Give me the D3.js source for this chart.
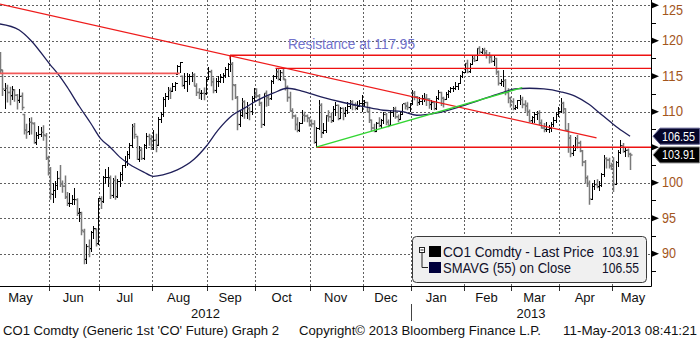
<!DOCTYPE html>
<html>
<head>
<meta charset="utf-8">
<script src="https://cdn.jsdelivr.net/npm/d3@7/dist/d3.min.js"></script>
<style>
  html, body { margin: 0; padding: 0; background: #fff; }
  svg { display: block; }
  text { font-family: "Liberation Sans", "DejaVu Sans", sans-serif; }
</style>
</head>
<body>
<svg id="chart" width="700" height="339"></svg>
<script>
// ---------------- data ----------------
// Daily bars, one row per trading day: [open, high, low, close]
const may12 = [
  [118.0,118.4,115.4,115.9],[115.8,115.9,112.2,113.2],[113.0,114.0,110.4,113.2],[113.3,113.8,111.3,112.7],
  [112.7,113.5,110.9,112.2],[112.3,113.6,111.6,113.1],[113.0,113.2,111.4,112.3],[112.3,112.5,110.3,111.6],
  [111.6,113.2,111.2,112.2],[112.2,112.7,110.2,110.6],[109.6,109.7,106.8,107.4],[107.4,108.3,106.2,107.1],
  [107.2,109.1,106.7,108.5],[108.5,109.2,106.8,108.4],[108.3,108.5,105.5,105.6],[105.7,107.1,105.3,106.6],
  [106.6,108.0,106.1,106.8],[106.8,107.9,106.5,107.1],[107.1,108.1,105.9,106.7],[106.6,107.0,103.2,103.5],
  [103.4,103.8,101.0,101.9]
];
const jun12 = [
  [101.8,102.2,97.6,98.4],[98.4,99.9,97.1,98.9],[98.9,100.3,97.9,99.6],[99.6,101.6,99.0,100.6],
  [100.6,102.5,99.4,99.9],[99.8,100.3,98.6,99.5],[99.5,101.0,97.7,98.0],[98.0,98.7,96.7,97.1],
  [97.1,98.6,96.6,97.1],[97.1,98.3,96.8,97.6],[97.6,99.2,96.9,97.6],[97.6,97.8,95.3,95.8],
  [95.7,96.4,94.4,95.8],[95.6,95.9,92.6,93.3],[93.1,93.5,88.5,89.2],[89.2,91.4,88.5,91.0],
  [91.0,92.0,89.5,90.7],[90.7,93.2,90.2,93.0],[93.0,93.9,92.0,93.5],[93.4,93.6,91.0,91.4],
  [91.4,97.9,91.2,97.8]
];
const jul12 = [
  [97.6,98.1,96.3,97.3],[97.4,100.9,97.2,100.7],[100.7,101.9,99.8,100.7],[100.7,102.2,99.4,100.7],
  [100.6,101.0,97.7,98.2],[98.2,100.6,97.9,100.3],[100.3,101.0,97.6,98.0],[98.0,100.5,97.8,100.2],
  [100.2,101.5,99.4,101.1],[101.1,102.5,100.3,102.4],[102.4,103.8,102.0,103.0],[103.0,104.4,102.3,104.0],
  [104.0,105.6,103.4,105.2],[105.2,108.3,104.9,107.9],[107.9,108.4,106.2,106.8],[106.5,106.6,103.2,103.3],
  [103.3,105.2,102.9,104.6],[104.6,104.9,103.2,103.4],[103.4,105.5,103.2,105.3],[105.3,107.0,104.8,106.5],
  [106.5,106.9,105.2,106.2],[106.2,106.7,104.6,104.9]
];
const aug12 = [
  [104.9,107.4,104.6,106.0],[106.0,106.9,104.3,105.3],[105.3,109.2,105.1,108.9],[108.9,110.0,108.4,109.6],
  [109.6,112.0,109.3,111.7],[111.7,112.6,110.7,112.1],[112.1,113.5,111.6,113.0],[113.0,113.4,111.8,112.9],
  [112.9,114.0,112.8,113.6],[113.6,114.2,112.9,114.0],[115.3,116.6,115.2,116.3],[116.3,117.0,115.4,116.9],
  [115.0,115.1,113.5,113.7],[113.7,115.4,113.2,114.3],[114.3,115.4,112.8,114.9],[114.9,115.3,113.8,115.0],
  [115.0,115.6,114.2,115.2],[115.2,115.4,113.6,113.6],[113.6,114.0,112.2,112.7],[112.7,113.3,111.8,112.6],
  [112.6,113.1,111.7,112.6],[112.6,113.4,111.6,112.5],[112.5,114.9,112.3,114.6]
];
const sep12 = [
  [114.6,116.3,114.4,115.6],[115.6,115.9,113.6,114.2],[114.2,114.8,112.6,113.0],[113.0,114.8,112.7,114.3],
  [114.3,115.0,113.5,114.3],[114.3,115.3,114.0,114.8],[114.8,115.4,114.1,115.1],[115.1,116.3,114.8,116.0],
  [116.0,116.8,114.9,116.6],[116.6,117.95,115.6,116.7],[116.7,117.0,111.6,113.8],[113.7,113.9,111.8,112.0],
  [112.0,112.2,107.4,108.2],[108.2,110.2,107.8,109.4],[109.4,111.9,109.2,111.4],[111.4,111.6,109.0,109.8],
  [109.8,111.3,108.9,110.4],[110.4,110.7,108.8,110.0],[110.0,112.2,109.6,111.9],[111.9,113.3,111.4,112.4]
];
const oct12 = [
  [112.4,113.3,111.9,112.2],[112.2,112.5,110.8,111.2],[111.2,111.4,107.7,108.2],[108.2,112.7,108.0,112.6],
  [112.6,113.0,110.7,112.0],[112.0,112.3,110.8,111.8],[111.8,114.5,111.6,114.3],[114.3,115.2,113.9,115.0],
  [115.0,116.1,114.6,115.6],[115.6,116.1,114.4,114.6],[114.6,115.9,114.3,115.5],[115.5,116.0,114.5,114.6],
  [114.5,114.6,113.0,113.4],[113.4,113.7,111.4,112.0],[112.0,112.8,110.0,110.1],[110.1,110.5,109.0,109.4],
  [109.4,109.6,107.4,108.2],[108.2,109.2,107.1,107.4],[107.4,108.6,107.2,108.4],[108.4,110.2,108.2,109.5],
  [109.5,110.0,108.6,109.4],[109.4,109.6,108.5,109.1],[109.1,109.2,107.9,108.7]
];
const nov12 = [
  [108.7,108.9,107.8,108.3],[108.3,108.8,105.5,105.7],[105.7,107.8,105.0,107.7],[107.7,111.6,107.4,110.9],
  [110.9,111.2,106.3,107.0],[107.0,108.4,106.8,107.3],[107.3,109.6,107.0,109.4],[109.4,110.2,108.6,109.3],
  [109.3,109.9,108.4,108.7],[108.7,110.8,108.6,110.3],[110.3,111.4,109.4,110.9],[110.9,111.0,108.8,109.0],
  [109.0,110.7,108.9,110.5],[110.5,110.6,108.8,109.8],[109.8,110.7,109.2,110.1],[110.1,111.3,109.7,110.8],
  [110.8,111.6,110.4,111.4],[111.4,111.6,110.2,110.9],[110.9,111.3,110.2,110.5],[110.5,111.5,110.3,110.8],
  [110.8,111.6,110.6,111.2],[111.2,112.3,110.0,111.2]
];
const dec12 = [
  [111.2,111.6,110.7,111.3],[111.3,111.4,109.9,110.0],[110.0,110.7,108.4,108.8],[108.8,108.9,107.2,107.7],
  [107.7,108.3,107.1,107.2],[107.2,108.6,107.1,108.4],[108.4,109.2,107.8,108.0],[108.0,109.0,107.7,108.7],
  [108.7,109.9,108.3,109.6],[109.6,109.8,108.1,108.5],[108.5,108.9,107.8,108.1],[108.1,110.2,108.0,109.9],
  [109.9,110.7,109.3,110.4],[110.4,110.7,109.0,109.3],[109.3,109.6,108.5,108.9],[108.9,109.9,108.9,109.6],
  [109.6,111.1,109.5,111.1],[111.1,111.3,110.3,110.8],[110.8,111.4,110.2,110.6],[110.6,111.2,110.0,111.1]
];
const jan13 = [
  [111.1,113.0,111.0,112.6],[112.6,112.9,111.6,112.1],[112.1,112.2,110.8,111.3],[111.3,112.0,110.9,111.4],
  [111.4,112.4,111.0,111.9],[111.9,112.6,111.3,111.9],[111.9,112.5,110.8,111.8],[111.8,111.9,110.4,111.0],
  [111.0,111.6,110.2,111.3],[111.3,111.5,110.2,110.4],[110.4,112.2,110.3,111.9],[111.9,113.0,111.7,112.7],
  [112.7,112.8,110.8,111.9],[111.9,112.1,110.6,111.7],[111.7,112.8,111.6,112.4],[112.4,113.1,111.9,112.8],
  [112.8,113.5,112.6,113.3],[113.3,113.6,112.8,113.3],[113.3,114.2,113.0,113.6],[113.6,114.1,113.1,114.0],
  [114.0,115.2,113.9,114.9],[114.9,115.8,114.7,115.5]
];
const feb13 = [
  [115.5,116.9,115.4,116.8],[116.8,117.3,115.4,115.6],[115.6,116.8,115.4,116.6],[116.7,117.9,116.6,117.5],
  [117.5,118.0,117.0,117.2],[117.2,119.0,117.1,118.9],[118.9,119.2,118.1,118.4],[118.4,119.0,118.1,118.7],
  [118.7,119.0,118.0,118.3],[118.3,118.7,117.5,118.0],[118.0,118.4,116.8,117.7],[117.7,118.0,116.9,117.1],
  [117.1,118.0,116.5,117.5],[117.5,117.6,115.2,115.6],[115.6,115.8,113.7,114.0],[114.0,114.6,113.6,114.2],
  [114.2,115.9,113.5,114.4],[114.4,114.6,112.3,112.7],[112.7,113.3,111.2,111.9],[111.9,112.1,110.6,111.4]
];
const mar13 = [
  [111.4,111.9,110.2,110.4],[110.4,111.0,110.2,110.6],[110.6,111.7,110.4,111.6],[111.6,112.4,111.0,111.7],
  [111.7,112.1,110.5,111.0],[111.0,111.6,110.0,110.8],[110.8,111.3,109.4,110.0],[110.0,110.3,108.5,108.7],
  [108.7,109.4,108.4,109.2],[109.2,109.9,108.4,109.6],[109.6,110.1,108.8,109.8],[109.8,110.2,108.1,108.4],
  [108.4,108.9,107.6,107.7],[107.7,108.4,107.1,107.5],[107.5,108.5,107.2,107.5],[107.5,108.1,107.0,107.6],
  [107.6,108.6,107.2,108.2],[108.2,109.2,107.9,108.7],[108.7,109.9,108.4,109.6],[109.6,110.6,109.2,110.0]
];
const apr13 = [
  [110.0,111.9,109.8,111.2],[111.2,111.4,109.7,110.4],[110.4,110.5,107.3,107.4],[107.4,108.4,104.2,106.3],
  [106.3,106.7,103.6,104.1],[104.1,105.3,103.8,104.6],[104.6,106.5,104.4,106.2],[106.2,106.7,104.8,105.6],
  [105.6,105.9,104.3,104.5],[104.5,104.6,102.3,102.9],[102.9,103.2,99.8,100.7],[100.7,101.0,99.4,99.9],
  [99.9,100.3,96.9,97.7],[97.7,100.0,97.5,99.4],[99.4,100.4,99.0,99.7],[99.7,100.5,99.2,99.4],
  [99.4,100.2,98.9,99.6],[99.6,101.4,99.4,101.1],[101.1,103.9,100.8,103.4],[103.4,103.6,102.0,103.2],
  [103.2,103.5,102.0,102.4],[102.4,102.8,101.8,102.3]
];
const may13 = [
  [102.3,103.6,98.7,99.8],[99.8,103.0,99.7,102.8],[102.8,104.6,102.2,104.2],[104.2,106.0,104.0,105.2],
  [105.2,105.6,104.2,104.4],[104.4,104.9,103.6,104.6],[104.6,104.8,103.6,104.0],[104.0,104.2,101.8,103.91]
];

// 55-day simple moving average of the close
const smaDates = ["2012-05-03","2012-05-15","2012-05-22","2012-06-01","2012-06-06","2012-06-12","2012-06-19",
  "2012-06-26","2012-07-02","2012-07-06","2012-07-12","2012-07-18","2012-07-26","2012-08-01","2012-08-07",
  "2012-08-15","2012-08-24","2012-08-31","2012-09-07","2012-09-17","2012-09-24","2012-10-02","2012-10-10",
  "2012-10-18","2012-10-26","2012-11-07","2012-11-19","2012-12-03","2012-12-13","2012-12-26","2013-01-04",
  "2013-01-16","2013-01-30","2013-02-11","2013-02-22","2013-03-04","2013-03-12","2013-03-20","2013-04-01",
  "2013-04-09","2013-04-17","2013-04-23","2013-04-30","2013-05-03","2013-05-10"];
const smaValues = [122.35,121.5,120.0,116.6,115.4,113.5,110.8,108.3,106.2,105.0,103.6,102.6,101.5,100.9,101.1,
  101.8,103.3,105.1,107.4,109.5,110.5,111.7,112.6,113.3,112.9,112.1,111.4,110.7,110.2,110.0,109.5,109.8,110.7,
  111.6,112.6,113.2,113.3,113.2,112.8,112.2,111.0,109.9,108.5,107.7,106.55];

// Drawn study lines: [startDate, startValue, endDate, endValue]
const downTrend = ["2012-05-03", 125.15, "2013-04-22", 106.3];
const upTrend = ["2012-11-05", 105.0, "2013-03-07", 113.38];
// Horizontal levels: [startDate, value, endDate or null = right edge]
const oldResistance = ["2012-05-03", 115.4, "2012-08-16"];
const resistance = ["2012-09-14", 117.95, null];
const octHigh = ["2012-10-11", 116.1, null];
const support = ["2012-11-05", 105.0, null];

const yTicks = [90, 95, 100, 105, 110, 115, 120, 125];
const lastPrice = 103.91, lastSma = 106.55;
const holidays = ["2012-12-25", "2013-01-01", "2013-03-29"];

// ---------------- layout ----------------
const svg = d3.select("#chart");
const plotRight = 651, plotBottom = 286;
const fmt = d3.utcFormat("%Y-%m-%d");

// trading calendar (weekdays minus exchange holidays)
const days = d3.utcDay.range(new Date(Date.UTC(2012, 4, 1)), new Date(Date.UTC(2013, 5, 1)))
  .filter(d => d.getUTCDay() !== 0 && d.getUTCDay() !== 6 && !holidays.includes(fmt(d)));
const dayIdx = new Map(days.map((d, i) => [fmt(d), i]));

const x = d3.scaleLinear()
  .domain([dayIdx.get("2012-05-03"), dayIdx.get("2013-05-01")])
  .range([0, 613.3]);
const step = x(1) - x(0);
const y = d3.scaleLinear().domain([85.45, 125.73]).range([plotBottom, 0]);

const bars = [].concat(may12, jun12, jul12, aug12, sep12, oct12, nov12, dec12, jan13, feb13, mar13, apr13, may13)
  .map((r, i) => ({ i: dayIdx.get("2012-05-03") + i, o: r[0], h: r[1], l: r[2], c: r[3] }));

svg.append("defs").append("clipPath").attr("id", "plotClip")
  .append("rect").attr("x", 0).attr("y", 0).attr("width", plotRight).attr("height", plotBottom);

// month boundaries
const months = d3.groups(days.map((d, i) => ({ d, i })), e => d3.utcFormat("%Y-%m")(e.d))
  .map(([k, arr]) => ({ key: k, date: arr[0].d, first: arr[0].i, last: arr[arr.length - 1].i }));

const grid = svg.append("g");
months.forEach(m => {
  const bx = x(m.first) - step / 2;
  if (bx > 2 && bx < plotRight - 2) {
    const px = Math.round(bx) + 0.5;
    grid.append("line").attr("x1", px).attr("x2", px).attr("y1", 0).attr("y2", plotBottom)
      .attr("stroke", "#606060").attr("stroke-dasharray", "2,2");
    grid.append("line").attr("x1", px).attr("x2", px).attr("y1", plotBottom).attr("y2", plotBottom + 5)
      .attr("stroke", "#303030");
  }
});
yTicks.forEach(v => {
  const py = Math.round(y(v)) + 0.5;
  grid.append("line").attr("x1", 0).attr("x2", plotRight).attr("y1", py).attr("y2", py)
    .attr("stroke", "#606060").attr("stroke-dasharray", "2,2");
});

const plot = svg.append("g").attr("clip-path", "url(#plotClip)");

// price bars
const barPath = b => {
  const bx = Math.round(x(b.i)) + 0.5;
  return `M${bx},${y(b.h)}V${y(b.l)}M${bx - 2},${y(b.o)}H${bx}M${bx},${y(b.c)}H${bx + 2}`;
};
plot.append("g").selectAll("path").data(bars).join("path")
  .attr("d", barPath)
  .attr("fill", "none")
  .attr("stroke", b => b.c >= b.o ? "#000" : "#7a7a7a")
  .attr("stroke-width", b => b.c >= b.o ? 1 : 1.5)
  .attr("shape-rendering", b => b.c >= b.o ? "crispEdges" : "auto");

// moving average
const sma = smaDates.map((d, k) => ({ i: dayIdx.get(d), v: smaValues[k] }));
plot.append("path").datum(sma)
  .attr("d", d3.line().x(d => x(d.i)).y(d => y(d.v)).curve(d3.curveMonotoneX))
  .attr("fill", "none").attr("stroke", "#20205a").attr("stroke-width", 1.3);

// study lines
const seg = (d1, v1, d2, v2, color, w) => plot.append("line")
  .attr("x1", x(dayIdx.get(d1))).attr("y1", y(v1))
  .attr("x2", d2 ? x(dayIdx.get(d2)) : plotRight).attr("y2", y(v2))
  .attr("stroke", color).attr("stroke-width", w);
seg(oldResistance[0], oldResistance[1], oldResistance[2], oldResistance[1], "#f25a5a", 1.6);
seg(downTrend[0], downTrend[1], downTrend[2], downTrend[3], "#ee1c1c", 1.3);
seg(resistance[0], resistance[1], resistance[2], resistance[1], "#ee1111", 1.4);
seg(resistance[0], resistance[1], resistance[0], resistance[1] - 0.6, "#ee1111", 1.2);
seg(octHigh[0], octHigh[1], octHigh[2], octHigh[1], "#ee1111", 1.4);
seg(support[0], support[1], support[2], support[1], "#ee1111", 1.4);
seg(upTrend[0], upTrend[1], upTrend[2], upTrend[3], "#33d633", 1.4);

svg.append("text").attr("x", 288).attr("y", 49)
  .attr("font-size", 14).attr("fill", "#7272cc")
  .attr("textLength", 127).attr("lengthAdjust", "spacingAndGlyphs")
  .text("Resistance at " + resistance[1].toFixed(2));

// axes frame
svg.append("line").attr("x1", 0).attr("x2", plotRight + 0.5).attr("y1", plotBottom + 0.5).attr("y2", plotBottom + 0.5)
  .attr("stroke", "#000");
svg.append("line").attr("x1", plotRight + 0.5).attr("x2", plotRight + 0.5).attr("y1", 0).attr("y2", plotBottom + 0.5)
  .attr("stroke", "#000");

// right value axis (the 105 label sits under the value flags, so it is not labelled)
const labelTicks = yTicks.filter(v => v !== 105);
const yAxis = d3.axisRight(y).tickValues(labelTicks).tickSize(0).tickPadding(11).tickFormat(d3.format("d"));
const ya = svg.append("g").attr("transform", `translate(${plotRight},0)`).call(yAxis);
ya.select(".domain").remove();
ya.selectAll(".tick").attr("transform", d => `translate(0,${Math.max(y(d), 10.5)})`);
ya.selectAll("text").attr("font-size", 14).attr("fill", "#a3561c")
  .attr("font-family", "Liberation Sans, sans-serif")
  .attr("textLength", 21).attr("lengthAdjust", "spacingAndGlyphs");
ya.selectAll("text").filter(d => d < 100).attr("textLength", 14);
yTicks.forEach(v => {
  const py = y(v);
  svg.append("path").attr("d", `M${plotRight + 1},${py - 3}L${plotRight + 8},${py}L${plotRight + 1},${py + 3}Z`)
    .attr("fill", "#000");
});
d3.range(87.5, 125, 5).forEach(v => {
  const py = Math.round(y(v)) + 0.5;
  svg.append("line").attr("x1", plotRight).attr("x2", plotRight + 5).attr("y1", py).attr("y2", py).attr("stroke", "#000");
});

// value flags at the right edge
const flag = (v, fill, stroke) => {
  const py = y(v);
  const g = svg.append("g");
  g.append("path")
    .attr("d", `M${plotRight + 2},${py}L${plotRight + 9},${py - 8}H699.5V${py + 8}H${plotRight + 9}Z`)
    .attr("fill", fill).attr("stroke", stroke);
  g.append("text").attr("x", 662).attr("y", py + 4.5).attr("font-size", 13).attr("fill", "#fff")
    .attr("textLength", 33).attr("lengthAdjust", "spacingAndGlyphs").text(v.toFixed(2));
};
flag(lastSma, "#06062a", "#5a5a8c");
flag(lastPrice, "#000", "#8a8a8a");

// month labels
months.forEach(m => {
  const a = Math.max(x(m.first) - step / 2, -8);
  const b = Math.min(x(m.last) + step / 2, plotRight + 5);
  if (b - a < 20) return;
  svg.append("text").attr("x", (a + b) / 2 - 1).attr("y", 302)
    .attr("text-anchor", "middle").attr("font-size", 13).attr("fill", "#111")
    .text(d3.utcFormat("%b")(m.date));
});
// year labels
const janX = x(dayIdx.get("2013-01-02")) - step / 2;
svg.append("text").attr("x", janX / 2).attr("y", 318).attr("text-anchor", "middle")
  .attr("font-size", 13).attr("fill", "#111").text("2012");
svg.append("text").attr("x", (janX + plotRight) / 2).attr("y", 318).attr("text-anchor", "middle")
  .attr("font-size", 13).attr("fill", "#111").text("2013");
svg.append("line").attr("x1", Math.round(janX) + 0.5).attr("x2", Math.round(janX) + 0.5)
  .attr("y1", 304).attr("y2", 321).attr("stroke", "#444");

// legend
const lg = svg.append("g");
lg.append("rect").attr("x", 412.5).attr("y", 236.5).attr("width", 234).attr("height", 46).attr("rx", 4)
  .attr("fill", "#f0f0f0").attr("stroke", "#3a3a3a");
lg.append("rect").attr("x", 419.5).attr("y", 247.5).attr("width", 5).attr("height", 5)
  .attr("fill", "#fff").attr("stroke", "#222");
lg.append("line").attr("x1", 420.5).attr("x2", 423.5).attr("y1", 250).attr("y2", 250).attr("stroke", "#222");
lg.append("path").attr("d", "M422,253V267.5H428").attr("fill", "none").attr("stroke", "#222");
lg.append("rect").attr("x", 429).attr("y", 246).attr("width", 12).attr("height", 11).attr("fill", "#000");
lg.append("rect").attr("x", 429).attr("y", 262).attr("width", 12).attr("height", 11).attr("fill", "#00003c");
const legendText = (tx, ty, s, len, anchor) => lg.append("text").attr("x", tx).attr("y", ty)
  .attr("font-size", 14).attr("fill", "#10102a").attr("text-anchor", anchor || "start")
  .attr("textLength", len).attr("lengthAdjust", "spacingAndGlyphs").text(s);
legendText(443, 257, "CO1 Comdty  - Last Price", 151);
legendText(602, 257, lastPrice.toFixed(2), 37);
legendText(443, 273, "SMAVG (55) on Close", 128);
legendText(602, 273, lastSma.toFixed(2), 37);

// footer
const foot = (tx, s, len) => svg.append("text").attr("x", tx).attr("y", 335).attr("font-size", 13)
  .attr("fill", "#111").attr("textLength", len).attr("lengthAdjust", "spacingAndGlyphs").text(s);
foot(3, "CO1 Comdty (Generic 1st 'CO' Future) Graph 2", 276);
foot(299, "Copyright\u00A9 2013 Bloomberg Finance L.P.", 242);
foot(563, "11-May-2013 08:41:21", 134);
</script>
</body>
</html>
